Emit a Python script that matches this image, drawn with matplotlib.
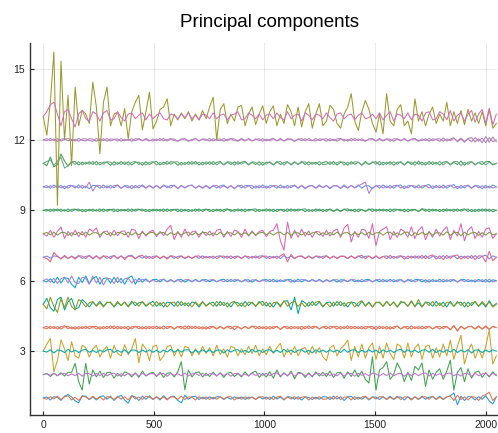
import numpy as np
import matplotlib.pyplot as plt

plt.rcParams["font.family"] = ["Liberation Sans", "DejaVu Sans"]

# one sample every 16 time steps, values are deviations from the offset in 1/100
sample_step = 16

pc1_a = [0, 5, -8, 6, 3, -10, 8, 15, 5, -12, -20, 10, 8, -6, 5, -8,
         6, 10, -5, 8, -10, 5, 12, -8, -22, 10, 5, -10, 8, -5, 10, -6,
         5, -8, 10, -5, 6, 8, -10, -20, 12, -5, 6, 8, -6, 4, -5, 6,
         -4, 6, 5, -6, 4, -5, 6, -3, 5, -6, 4, 3, -5, 6, -4, 5,
         -6, 8, -4, 5, -8, 6, 4, -5, 6, -8, 5, 3, -6, 4, -5, 6,
         5, -6, 8, -4, 6, -10, 5, 8, -6, 4, -5, 6, -8, 5, 4, -6,
         6, -5, 8, -6, 4, 5, -8, 6, -4, 5, -6, 8, -5, 4, 6, -5,
         8, -6, 5, 10, 22, -28, 8, -10, 6, 5, -8, 6, -5, 10, -12, -25, 5]
pc1_b = [0, -5, 6, -4, 8, -6, 5, 10, -8, 4, -10, 8, 5, -6, 8, -4,
         5, -8, 6, 4, -6, 8, -5, 6, -8, 10, -4, 5, -6, 8, 4, -5,
         6, -4, 5, -8, 6, 4, -5, 8, -6, 5, 4, -8, 6, -4, 5, -6,
         4, -5, 6, -4, 5, 6, -8, 4, -5, 6, -4, 5, -6, 4, 6, -5,
         5, -6, 4, 8, -6, 5, -4, 6, -5, 4, 6, -8, 5, -4, 6, -5,
         -4, 6, -5, 8, -6, 4, 5, -8, 6, -5, 4, 8, -6, 5, -4, 6,
         5, -6, 4, -5, 8, -6, 5, 4, -8, 6, -5, 4, 6, -5, 8, -6,
         4, -5, 6, 8, -10, 12, -6, 5, -8, 6, 4, -10, 8, 15, 25, -10, 5]

pc2_a = [0, 5, -8, 6, -5, 8, -6, 10, 10, 48, -30, -66, 48, -40, 20, -10,
         15, -12, 8, 10, -15, 6, -8, 12, 5, -10, 8, -12, 15, -6, 5, 10,
         -8, 10, -12, 6, 8, -10, 12, 55, -65, 20, -10, 8, 12, -10, 6, -8,
         10, -6, 8, -12, 6, 10, -8, 5, -10, 12, -6, 8, 15, -12, 6, -10,
         12, -15, 20, -10, 8, -6, 15, -18, 10, 6, -12, 8, -10, 12, -6, 10,
         -8, 15, -12, 8, 10, -15, 12, -8, 20, -10, 15, -20, -36, 76, -66, 20,
         30, 55, -20, 0, 50, 20, -30, 10, -25, 35, 20, 50, -50, 20, -20, 10,
         25, -20, 15, 62, -66, 10, 30, -30, 25, -15, 10, 15, -12, 8, -10, 12, -5]
pc2_b = [0, 4, -3, 5, -4, 3, 6, -5, 3, -4, 6, -7, 5, 4, -6, 5,
         -4, 6, -5, 3, 7, -6, 4, -5, 6, -3, 5, -7, 6, -4, 3, 5,
         -6, 4, 5, -7, 6, -3, 4, -5, 7, -6, 3, 5, -4, 6, -5, 4,
         3, -5, 6, -4, 5, -7, 4, 6, -5, 3, -6, 7, -4, 5, -3, 6,
         -5, 4, 7, -6, 5, -4, 9, -7, 4, 6, -5, 3, -6, 5, 4, -5,
         6, -4, 3, -5, 7, -6, 4, 5, -7, 6, -3, 4, -5, 6, 3, -6,
         5, -4, 7, -5, 3, 6, -7, 5, -4, 6, -5, 4, 7, -6, 5, -3,
         4, -6, 5, 7, -5, 3, -6, 5, 4, -7, 6, -5, 3, 6, -7, 5, 0]

pc3_a = [0, 30, 54, -88, -40, 48, 10, -40, 40, -20, -30, 25, 15, -25, 10, 25,
         -25, 5, 20, -30, 25, -10, -20, 28, -15, 10, 54, -50, 30, 10, -40, 20,
         25, -40, -20, 20, 25, -20, 10, -25, 20, 15, -20, 10, -15, 20, -10, 15,
         -20, 25, -15, 10, -25, 20, 15, -20, 10, -15, 20, -10, 25, -20, 10, -15,
         20, -10, 15, 33, -25, 10, -15, 20, -20, 10, 15, -15, 20, -10, 15, -25,
         -40, 15, 25, -20, 10, 25, 47, -40, 20, -25, 30, -30, 15, 35, -35, 20,
         -30, 35, -10, -35, 30, 20, -30, 35, -25, 15, 30, -35, 20, 25, -30, 15,
         -25, 30, -20, 47, -35, 20, 68, -55, 0, 30, -30, 10, -30, 20, 90, -55, -20]
pc3_b = [0, -4, 6, -8, 5, 3, -6, 8, -4, 5, -6, 4, 8, -5, 3, -6,
         5, -4, 6, 8, -6, 4, -5, 6, -8, 5, 4, -6, 5, -4, 6, -5,
         4, -6, 5, -4, 8, -5, 6, -4, 5, 6, -8, 4, -5, 6, -4, 5,
         -6, 4, 5, -8, 6, -4, 5, 6, -5, 4, -6, 8, -4, 5, -6, 4,
         6, -5, 4, -6, 8, -4, 5, -6, 4, 6, -5, 4, -8, 6, -4, 5,
         -5, 6, -4, 5, -6, 8, -5, 4, 6, -6, 4, -5, 6, -4, 5, -8,
         6, -4, 5, -6, 4, 8, -5, 6, -4, 5, -6, 4, 6, -5, 8, -6,
         4, -5, 6, -4, 8, -6, 5, -4, 6, -8, 5, 4, -6, 5, -4, 6, 0]

pc4_a = [0, 6, -4, 5, -6, 4, 8, -5, 3, -6, 5, -4, 6, -5, 4, 6,
         -6, 5, -4, 8, -5, 6, -4, 5, -8, 4, 6, -5, 4, -6, 5, -4,
         6, -5, 8, -4, 5, -6, 4, 5, -6, 8, -4, 6, -5, 4, -6, 5,
         4, -6, 5, -4, 6, 5, -8, 4, -5, 6, -4, 5, 6, -5, 4, -6,
         5, -4, 6, -8, 5, 4, -6, 5, -4, 6, -5, 8, -4, 5, -6, 4,
         -5, 6, 4, -6, 5, -4, 8, -5, 6, -4, 5, -6, 4, 5, -8, 6,
         -4, 5, -6, 4, 6, -5, 4, -6, 8, -4, 5, -6, 4, 6, -5, 4,
         -6, 5, 4, -8, 10, -15, 6, -5, 4, 6, -5, 8, -6, 4, -8, 6, 0]
pc4_b = [0, -5, 6, -4, 5, -6, 4, 6, -5, 4, -6, 5, -4, 6, 5, -6,
         4, -5, 6, -4, 8, -6, 5, -4, 6, -5, 4, 6, -6, 5, -4, 6,
         -5, 4, -6, 5, 4, -6, 5, -4, 8, -5, 6, -4, 5, -6, 4, -5,
         6, -4, 5, -6, 4, -5, 6, 4, -6, 5, -4, 8, -5, 6, -4, 5,
         -6, 4, 5, -6, 4, -5, 6, -4, 5, -8, 6, -4, 5, 6, -5, 4,
         6, -5, 4, 6, -6, 5, -4, 6, -5, 4, -6, 5, 4, -6, 5, -4,
         5, -6, 4, -5, 8, -6, 4, 5, -6, 4, -5, 6, -4, 5, -6, 4,
         6, -4, 5, -10, 8, -12, 5, -6, 4, 5, -6, 4, -5, 8, -6, 5, 0]

pc5_a = [0, 25, -15, -30, 20, 30, -25, 10, 25, -20, -15, 20, 6, -12, 9, -6,
         12, -9, 6, 9, -12, 6, -6, 9, -9, 12, -6, 6, 9, -9, 3, 12,
         -9, 6, -12, 9, 6, -9, 12, -6, 6, -9, 9, 6, -12, 9, -6, 3,
         9, -9, 12, -6, 6, -12, 9, 6, -9, 12, -6, 9, -9, 6, 12, -9,
         6, -12, 9, -6, 12, 15, -25, 30, -40, 15, 6, -9, 12, -6, 9, -12,
         6, 9, -9, 12, -6, 6, -12, 9, 6, -9, 12, -6, 9, -12, 6, 9,
         -9, 12, -6, 9, -12, 6, 9, -9, 12, -9, 6, -12, 9, 6, -9, 12,
         -6, 9, -12, 12, -9, 6, 9, -12, 9, -6, 12, -9, 6, -12, 15, -9, 3]
pc5_b = [0, -20, 30, -10, -35, 25, -15, 30, -10, -25, 20, 9, -12, 6, 12, -9,
         6, -12, 9, 6, -9, 12, -6, 9, -12, 6, 9, -9, 12, -6, 6, -9,
         12, -6, 9, -12, 6, 9, -9, 12, -6, 6, -12, 9, -6, 12, -9, 6,
         -9, 12, -6, 9, -12, 6, 12, -9, 6, -12, 9, 6, -9, 12, -6, 9,
         -12, 6, 9, -12, 15, -9, 6, 12, -9, 6, -12, 9, -6, 9, 12, -9,
         6, -12, 9, -6, 12, -9, 6, 9, -12, 6, 15, -9, 6, -12, 9, 6,
         -9, 12, -6, 9, -12, 12, 6, -9, 15, -12, 20, -12, 9, -6, 12, -9,
         6, -12, 9, 6, -9, 12, -6, 9, -12, 6, 9, -9, 12, -6, 9, -12, 0]

pc6_a = [0, -5, 8, -10, 15, -10, 12, 10, -15, -30, 15, -8, 20, -12, 10, 18,
         -15, 10, 12, -10, 15, -8, 10, -15, 12, 20, -15, 10, -6, 8, -6, 5,
         6, -5, 7, -4, 5, -6, 4, 5, -6, 4, -5, 6, -4, 3, 5, -4,
         4, -5, 3, 6, -4, 5, -3, 4, -5, 3, 4, -6, 5, -4, 3, 5,
         -4, 6, -5, 4, -3, 5, 4, -6, 7, -5, 4, -3, 5, -4, 6, -5,
         4, -3, 5, -6, 4, 3, -5, 6, -4, 3, -5, 4, 6, -5, 3, -4,
         5, -4, 6, -5, 3, 4, -6, 5, -3, 4, 6, -5, 4, -6, 5, -4,
         6, -5, 4, -3, 5, -6, 4, 5, -4, 3, -5, 6, -4, 5, -6, 4, 0]
pc6_b = [0, 8, -6, 10, -12, 8, 15, -10, 20, -8, -12, 15, 10, -15, 20, -10,
         15, -18, 10, 8, -12, 15, -10, 8, 12, -10, 6, -5, 6, 3, -5, 4,
         -5, 4, 6, -5, 3, -4, 5, -6, 4, 5, -3, 4, -5, 6, -4, 3,
         5, -4, 3, -5, 6, -4, 5, 3, -4, 5, -6, 4, 3, -5, 4, -3,
         6, -5, 4, -4, 3, 5, -6, 4, -5, 6, 3, -4, 5, -3, 4, -6,
         5, -4, 3, 5, -6, 4, -3, 5, 4, -5, 6, -4, 3, -5, 4, 6,
         -5, 4, -3, 5, -4, 6, -5, 3, 4, -5, 3, 6, -7, 5, -4, 3,
         -5, 6, -4, 5, 3, -6, 5, -4, 6, -5, 4, -3, 5, -6, 7, -5, 0]

pc7_a = [0, 5, -4, 6, 3, -5, 4, -6, 5, -3, 7, -5, 4, 6, -7, 5,
         -4, 6, -5, 3, 7, -6, 5, -4, 6, 9, -7, 5, -4, 6, -5, 4,
         5, -6, 4, -3, 6, -5, 4, 5, -6, 3, -4, 5, -5, 6, -3, 4,
         -5, 4, 6, -4, 5, -6, 3, 5, -4, 6, -5, 4, -3, 5, 6, -5,
         4, -3, 5, -6, 7, -4, 5, -6, 4, 3, -5, 6, -4, 5, -3, 4,
         6, -5, 4, -4, 5, 3, -6, 5, -4, 6, -3, 4, 5, -6, 4, -5,
         3, 6, -5, 4, -4, 5, 3, -6, 5, -4, 6, -5, 7, -6, 5, 4,
         -6, 7, -5, 4, 6, -7, 5, -4, 6, -5, 7, -6, 4, 9, -7, 6, 0]
pc7_b = [0, -5, -20, 20, 5, -8, 8, -5, 4, -8, 6, 5, -6, 8, -4, 6,
         -8, 5, 4, -6, 8, -5, 6, -10, 5, 4, -6, 5, 8, -5, 4, -6,
         6, -4, 5, -8, 6, 4, -5, 6, -4, 5, -6, 4, 6, -5, 4, -4,
         5, -6, 4, 5, -4, 6, -5, 4, -6, 5, 3, -4, 6, -5, 4, 5,
         -6, 4, -5, 6, 15, -20, 12, -5, 4, 6, -5, 4, -6, 5, 4, -5,
         6, -4, 5, -6, 4, 5, -4, 6, -5, 4, 8, -6, 5, -4, 6, -5,
         4, -6, 8, -5, 4, 6, -8, 5, -4, 6, -5, 8, -6, 5, 10, -8,
         6, -10, 8, -5, 6, 10, -8, 5, -6, 8, -10, 6, 5, -20, 25, -15, 0]

pc8_a = [0, -10, 15, -15, 10, 29, -20, 10, -10, 15, -12, 10, -15, 20, 10, 25,
         -15, 8, 12, -10, 15, -8, 10, 12, -15, 20, 15, -20, 12, -10, 8, 15,
         -12, 10, -8, 20, 36, -25, 10, -15, 20, -10, 8, 12, -15, 10, -8, 12,
         -10, 15, 20, -15, 10, -12, 15, 10, -15, 20, -10, 12, -8, 10, 15, -12,
         10, 15, 43, -30, -70, 50, -20, 15, -15, 20, -10, 12, -15, 10, 8, -12,
         15, -10, 12, 20, -15, 25, 40, -35, 10, -15, 20, 15, -20, 43, -50, 10,
         20, 30, -25, 10, -15, 20, 10, -15, 30, -20, 15, 30, -25, 10, -15, 20,
         -10, 15, 30, -25, 15, -10, 43, -30, 15, 30, -20, 10, -15, 20, 25, -20, 0]
pc8_b = [0, 6, -5, 7, -6, 5, 6, -7, 5, -4, 6, -5, 7, -6, 4, 5,
         -6, 7, -4, 5, -6, 6, 4, -5, 7, -6, 5, -4, 6, -5, 4, 6,
         -5, 4, 6, -7, 5, -4, 6, -5, 4, 7, -6, 5, -4, 6, 5, -6,
         4, -5, 7, -6, 5, 4, -5, 6, -4, 5, -6, 7, -5, 4, 6, -4,
         5, -6, 4, 7, -5, 6, -7, 5, 4, -6, 6, -5, 4, 7, -6, 5,
         -4, 6, -5, 7, -6, 4, 5, -7, 6, -4, 5, -6, 7, -5, 4, 6,
         -6, 5, 7, -6, 4, -5, 6, 7, -9, 5, -4, 6, -5, 7, -6, 5,
         4, -6, 9, -7, 5, 6, -9, 7, -5, 4, 6, -7, 5, -6, 7, -5, 0]

pc9_a = [0, 4, -5, 6, -3, 5, -4, 6, -5, 3, 5, -6, 4, -3, 5, -4,
         6, -5, 3, 4, -6, 5, -3, 4, -5, 6, -4, 3, 5, -6, 4, -3,
         5, -4, 6, -5, 3, 4, -6, 5, -3, 4, -5, 6, -4, 3, 5, -5,
         4, -3, 5, -6, 4, 3, -5, 6, -4, 5, -3, 4, 6, -5, 3, -4,
         5, -6, 4, 3, -5, 6, -4, 5, -3, 4, 6, -5, 3, -4, 5, -6,
         4, 3, -5, 6, -4, 5, -3, 4, -6, 5, 3, -4, 6, -5, 4, -3,
         5, -4, 6, -5, 3, 4, -6, 5, -3, 4, -5, 6, 4, -6, 5, -3,
         4, -5, 6, -3, 5, -4, 3, 6, -5, 4, -6, 5, -4, 6, -5, 4, 0]
pc9_b = [0, -3, 5, -4, 6, -5, 3, -6, 4, 5, -3, 4, -6, 5, -4, 3,
         -5, 6, -4, 3, 5, -6, 4, -3, 6, -5, 4, 5, -3, 4, -6, 5,
         -3, 4, -5, 6, -4, 3, 5, -6, 4, -5, 3, -4, 6, -5, 4, 3,
         -6, 5, -4, 3, 6, -5, 4, -3, 5, -6, 4, 3, -5, 4, -3, 6,
         -4, 5, -6, 4, 3, -5, 6, -4, 5, 3, -6, 4, -5, 6, -3, 4,
         -5, 6, -4, 3, -5, 4, 6, -3, 5, -6, 4, -5, 3, 6, -4, 5,
         -3, 4, -6, 5, 4, -3, 5, -6, 4, 3, -5, 6, -4, 5, -3, 4,
         -6, 5, -3, 4, -5, 6, -4, 3, 5, -6, 4, -5, 6, -4, 5, -6, 0]

pc10_a = [0, 5, -6, 8, -4, 6, -8, 5, 6, -5, 8, -6, 4, -8, 6, 5,
          -6, 8, -5, 6, -4, 8, -6, 5, 4, -8, 6, -5, 8, -4, 6, -6,
          5, -6, 8, -4, 6, 5, -8, 6, -5, 4, 8, -6, 5, -4, 6, -8,
          6, -5, 4, 8, -6, 5, -8, 6, -4, 5, 6, -8, 4, -5, 8, -6,
          5, 4, -6, 8, -5, 6, -4, 8, -6, 5, -8, 4, 6, -5, 8, -4,
          6, -8, 5, 4, -6, 8, -5, 6, -4, 8, -6, 5, 4, -8, 6, -5,
          8, -4, 6, -6, 5, 8, -8, 4, 6, -5, 8, -6, 5, 10, -8, 6,
          -5, 8, -6, 4, 10, -8, 6, -5, 8, -6, 5, 4, -8, 6, -5, 8, 0]
pc10_b = [0, -4, 5, -3, 6, -5, 4, -6, 5, 3, -5, 6, -4, 20, -18, 6,
          6, -5, 4, -6, 5, 7, -6, 4, -5, 6, -4, 5, 3, -6, 5, -4,
          6, -5, 4, 3, -5, 7, -6, 4, -3, 5, 6, -5, 4, -6, 5, -4,
          3, 6, -5, 4, -4, 5, -6, 3, 7, -5, 4, 6, -6, 5, -4, 3,
          -5, 6, 4, -5, 3, -6, 5, 4, -4, 6, -5, 3, 5, -6, 4, -3,
          6, -5, 4, 5, -6, 3, -4, 6, -5, 4, 12, 20, -28, -4, 3, 6,
          -5, 4, -6, 5, 7, -6, 4, -5, 6, 3, -5, 4, 6, -5, 4, -3,
          5, -6, 4, 7, -5, 3, -6, 5, 4, -5, 6, -4, 5, -6, 4, -5, 0]

pc11_a = [0, -10, 27, -15, -5, 40, 10, -12, 6, 8, -7, 5, -4, 7, -5, 8,
          -7, 5, 4, -8, 7, -4, 8, -5, 7, -7, 4, 5, -8, 7, -5, 4,
          8, -7, 5, -4, 7, 5, -8, 4, -5, 7, -4, 8, -7, 5, -4, 7,
          -5, 4, 8, -7, 5, -5, 7, -4, 5, 8, -7, 4, -5, 7, -8, 5,
          4, -7, 8, -5, 4, 7, -7, 5, -4, 8, -5, 7, -4, 5, -7, 4,
          7, -5, 8, -7, 4, 5, -8, 7, -4, 5, -7, 8, -5, 4, 7, -7,
          5, -4, 7, -8, 5, 4, -7, 8, -5, 7, -4, 5, -7, 8, -5, 4,
          -7, 5, 8, -7, 4, -5, 10, -8, 5, 7, -7, 4, -5, 7, 8, -7, 0]
pc11_b = [0, 8, 15, -10, 10, 25, -20, -10, 8, -5, 7, -7, 5, -4, 8, -7,
          5, -4, 7, 5, -8, 4, -5, 7, -7, 5, 8, -5, 4, -7, 5, 7,
          -7, 4, -5, 8, -4, 5, 7, -7, 4, -5, 8, -4, 5, -7, 7, -5,
          8, -7, 4, -5, 7, 5, -8, 7, -4, 5, -5, 7, 4, -8, 5, -4,
          7, -5, 4, 8, -7, 5, -4, 7, -5, 4, 7, -8, 5, -4, 8, -5,
          -4, 7, -5, 4, 8, -7, 5, -4, 7, 5, -8, 4, -5, 7, -4, 8,
          -7, 5, -4, 7, -5, 8, -7, 4, 5, -8, 10, -7, 4, -5, 7, -4,
          8, -7, 5, -4, 7, 8, -10, 5, -4, 7, -5, 4, 8, -7, 5, -4, 0]

pc12_a = [0, 5, -3, 4, -6, 3, 5, -4, 2, -5, 6, -2, -4, 5, 3, -6,
          4, -3, 6, -5, 2, 4, -6, 3, -2, 5, -4, 6, -3, 2, -5, 4,
          -3, 6, -4, 2, 5, -3, -5, 4, 3, -6, 2, 5, -4, 3, -2, 6,
          -5, 3, 4, -6, 2, 5, -3, -4, 6, -2, 3, -5, 4, -3, 5, -4,
          2, 6, -5, 3, -4, 5, 2, -6, 4, -3, 5, -2, -4, 6, -3, 2,
          5, -4, 3, -6, 4, 2, -5, 6, -3, 4, -2, -5, 3, 6, -4, 2,
          -5, 4, 3, -6, 5, -2, 4, -5, 3, 6, -4, -3, 5, -6, 4, 2,
          -6, 8, -5, 3, 9, -8, 4, -10, 6, 10, -9, 5, -12, 14, -10, 12, -8]
pc12_b = [0, -4, 6, -3, 5, -5, 2, 6, -4, 3, -6, 4, 5, -3, -5, 6,
          -3, 5, -6, 4, 3, -5, 6, -4, 2, -6, 5, 3, -4, 6, -2, -5,
          4, -3, 6, -5, 3, 4, -6, 2, 5, -4, -3, 6, -5, 4, 3, -6,
          5, -2, -4, 6, -3, 5, 4, -6, 3, -5, 6, -4, 2, 5, -6, 3,
          -4, 5, -3, 6, -5, 2, 4, -6, 3, 5, -4, 6, -2, -5, 4, 3,
          -6, 5, -3, 4, 6, -5, 2, -4, 6, -3, 5, -6, 4, 3, -5, 6,
          -2, 4, -6, 5, 3, -4, 6, -5, 2, 4, -6, 5, -3, 6, -4, 3,
          5, -6, 4, -3, 6, -5, 8, -6, 4, -8, 10, -6, 8, -12, 10, -8, 0]

pc13_a = [0, -80, 60, 274, -379, 235, -100, 90, -210, 125, -40, 26, 10, -30, 146, 40,
          -159, 60, 125, -40, 10, 18, -40, 33, -95, 20, 60, 90, -57, 20, 103, -53,
          -20, 30, 40, 75, -40, 10, -15, 15, -10, 20, -20, 10, -15, 25, -10, 40,
          82, -100, 30, 54, -31, 10, -20, 40, 47, -40, 10, 40, -35, 10, 45, -30,
          20, 45, -40, 10, -30, 50, 20, -40, 40, -45, 20, 54, -50, 10, 54, -40,
          -20, 47, 30, -30, -50, 10, 40, 97, -20, -60, 20, 68, 30, -30, -67, 10,
          -74, 97, -20, -40, 30, 50, -40, -20, -74, 75, -20, 20, -40, 10, 40, -30,
          10, -20, 60, -40, 20, -30, 25, -35, 30, -20, 15, -30, 20, -40, 30, -50, -30]
pc13_b = [0, 20, 50, 60, 10, -40, 20, 30, -10, -45, 10, 26, -10, -20, 20, 10,
          -20, 15, 25, -15, -10, 20, -5, -20, 10, 15, -10, 5, 15, -15, 10, -10,
          5, 15, -10, -15, 10, 5, -10, 10, -5, 15, -10, 5, -15, 10, 5, -10,
          15, -10, 5, 10, -15, 5, 10, 20, -15, -10, 15, 5, -10, 10, -15, 5,
          10, -10, 15, -5, -15, 20, -10, 5, 10, -20, 15, 5, -15, 10, 5, -10,
          15, -5, -20, 10, 15, -10, 5, 10, -15, 5, 15, -10, -5, 10, -10, 15,
          -15, 5, 20, -20, 10, 5, -10, 15, -15, 10, 5, -20, 15, 20, -15, -10,
          20, 10, -15, 25, -20, 5, 15, -20, 10, 25, -25, 10, 30, -30, 35, -35, 10]

series = [pc1_a, pc1_b, pc2_a, pc2_b, pc3_a, pc3_b, pc4_a, pc4_b,
          pc5_a, pc5_b, pc6_a, pc6_b, pc7_a, pc7_b, pc8_a, pc8_b,
          pc9_a, pc9_b, pc10_a, pc10_b, pc11_a, pc11_b, pc12_a, pc12_b,
          pc13_a, pc13_b]
offsets = [1, 1, 2, 2, 3, 3, 4, 4, 5, 5, 6, 6, 7, 7, 8, 8,
           9, 9, 10, 10, 11, 11, 12, 12, 13, 13]

colors = ["#1f9bea", "#e2714a", "#3ea44e", "#c371d2", "#c9a227", "#00aaae",
          "#ee6272", "#e27d4a", "#00a98d", "#8e971e", "#00a8cb", "#a77fe0",
          "#618df6", "#ef6080", "#dd64b5", "#7f9a45", "#4a9a8a", "#3ea44e",
          "#5b97e0", "#b57ad6", "#3ea44e", "#6ea38c", "#9f8ba9", "#c07cc8",
          "#9c9a2c", "#d46fb6"]

fig = plt.figure(figsize=(4.98, 4.33), dpi=100)
ax = fig.add_axes([30 / 498, 18 / 433, 467 / 498, 372.3 / 433])

for dev, off, col in zip(series, offsets, colors):
    x = np.arange(len(dev)) * sample_step
    y = off + np.array(dev) / 100.0
    ax.plot(x, y, color=col, lw=0.75)

ax.set_xlim(-60, 2051)
ax.set_ylim(0.28, 16.14)
ax.set_xticks([0, 500, 1000, 1500, 2000])
ax.set_yticks([3, 6, 9, 12, 15])
ax.grid(True, color="black", alpha=0.1, lw=0.6)
ax.set_axisbelow(True)
for side in ["top", "right"]:
    ax.spines[side].set_visible(False)
for side in ["left", "bottom"]:
    ax.spines[side].set_color("#333333")
    ax.spines[side].set_linewidth(1.0)
ax.tick_params(direction="in", length=3, width=0.8, labelsize=7.5, colors="#222222")
ax.set_title("Principal components", fontsize=13.5, pad=11.5, x=0.512)

plt.savefig("out.png", dpi=100)
